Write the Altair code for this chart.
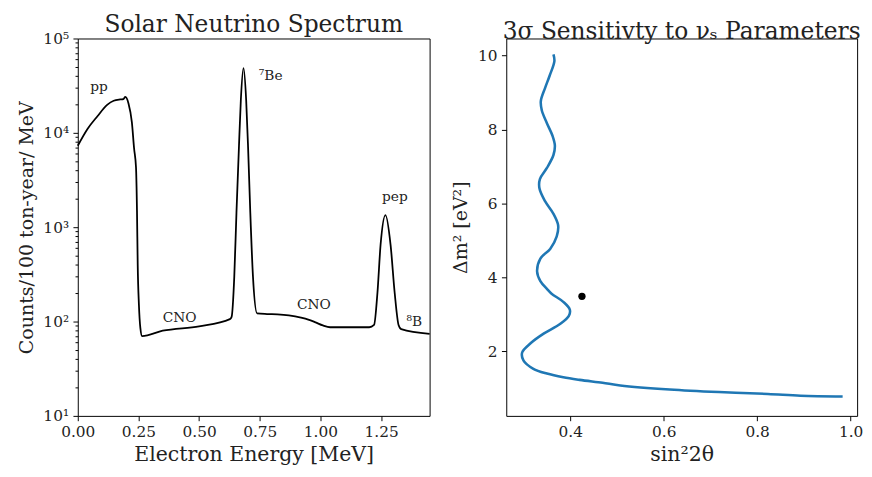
import altair as alt
import pandas as pd

# ---------------- Left panel data: solar neutrino spectrum ----------------
energy = [0.000, 0.040, 0.081, 0.121, 0.148, 0.175, 0.188, 0.196, 0.209, 0.223,
          0.232, 0.240, 0.244, 0.247, 0.252, 0.258, 0.265, 0.350, 0.500, 0.627,
          0.634, 0.645, 0.654, 0.664, 0.672, 0.683, 0.694, 0.702, 0.711, 0.722,
          0.739, 0.780, 0.823, 0.870, 0.920, 0.950, 0.980, 1.010, 1.040, 1.100,
          1.201, 1.221, 1.235, 1.248, 1.268, 1.289, 1.306, 1.322, 1.333, 1.450]
counts = [7300, 11000, 15000, 19800, 21900, 22600, 22800, 24000, 20500, 12900,
          6870, 4300, 1500, 400, 150, 85, 70, 80, 89, 106,
          112, 300, 1430, 6870, 22200, 48600, 22200, 6870, 1430, 300,
          122, 120, 119, 116, 110, 105, 98, 91, 87, 87,
          87, 92, 202, 655, 1346, 655, 202, 92, 83, 74]

label_text = ["pp", "⁷Be", "pep", "CNO", "CNO", "⁸B"]
label_x = [0.051, 0.746, 1.254, 0.350, 0.903, 1.355]
label_y = [28100, 36100, 1890, 98, 137, 89]

# ---------------- Right panel data: 3 sigma sensitivity contour ----------------
sin2 = [0.364, 0.366, 0.356, 0.346, 0.337, 0.339, 0.350, 0.362, 0.367, 0.364,
        0.350, 0.335, 0.334, 0.346, 0.364, 0.374, 0.371, 0.357, 0.336, 0.329,
        0.336, 0.350, 0.360, 0.385, 0.399, 0.397, 0.378, 0.343, 0.315, 0.297,
        0.300, 0.321, 0.350, 0.385, 0.420, 0.469, 0.507, 0.613, 0.718, 0.823,
        0.893, 0.983]
dm2 = [10.03, 9.85, 9.46, 9.12, 8.77, 8.52, 8.17, 7.83, 7.57, 7.31,
       6.96, 6.66, 6.41, 6.06, 5.72, 5.41, 5.11, 4.77, 4.51, 4.16,
       3.90, 3.69, 3.56, 3.34, 3.13, 2.96, 2.74, 2.48, 2.22, 1.97,
       1.75, 1.53, 1.40, 1.30, 1.23, 1.15, 1.08, 0.97, 0.90, 0.85,
       0.80, 0.78]
best_sin2 = [0.425]
best_dm2 = [3.49]

FONT = "DejaVu Serif"
H = 384

spec_df = pd.DataFrame({"E": energy, "N": counts})
lab_df = pd.DataFrame({"E": label_x, "N": label_y, "t": label_text})
cont_df = pd.DataFrame({"s": sin2, "m": dm2, "i": list(range(len(sin2)))})
pt_df = pd.DataFrame({"s": best_sin2, "m": best_dm2})

ytick_vals = [m * k for m in [10, 100, 1000, 10000] for k in range(1, 10)] + [100000]

xs_left = alt.Scale(domain=[0, 1.45], nice=False, zero=False)
ys_left = alt.Scale(type="log", domain=[10, 100000], nice=False)

line_left = alt.Chart(spec_df).mark_line(color="black", strokeWidth=1.8,
                                         interpolate="monotone").encode(
    x=alt.X("E:Q", scale=xs_left,
            axis=alt.Axis(values=[0, 0.25, 0.5, 0.75, 1.0, 1.25], format=".2f",
                          title="Electron Energy [MeV]")),
    y=alt.Y("N:Q", scale=ys_left,
            axis=alt.Axis(values=ytick_vals, title="Counts/100 ton-year/ MeV",
                          labelExpr="datum.value == 10 ? '10¹' : datum.value == 100 ? '10²' : datum.value == 1000 ? '10³' : datum.value == 10000 ? '10⁴' : datum.value == 100000 ? '10⁵' : ''",
                          tickSize={"condition": {"test": "indexof([10,100,1000,10000,100000], datum.value) >= 0", "value": 4.9}, "value": 2.8},
                          labelOverlap=False, titleFontSize=19.3)),
)

text_left = alt.Chart(lab_df).mark_text(font=FONT, fontSize=14, align="left",
                                        baseline="alphabetic", color="#222").encode(
    x=alt.X("E:Q", scale=xs_left),
    y=alt.Y("N:Q", scale=ys_left),
    text="t:N",
)

left = alt.layer(line_left, text_left).properties(
    width=358, height=H, title="Solar Neutrino Spectrum")

xs_right = alt.Scale(domain=[0.263, 1.014], nice=False, zero=False)
ys_right = alt.Scale(domain=[0.256, 10.46], nice=False, zero=False)

cont = alt.Chart(cont_df).mark_line(color="#1f77b4", strokeWidth=2.6,
                                    interpolate="catmull-rom").encode(
    x=alt.X("s:Q", scale=xs_right,
            axis=alt.Axis(values=[0.4, 0.6, 0.8, 1.0], format=".1f", title="sin²2θ")),
    y=alt.Y("m:Q", scale=ys_right,
            axis=alt.Axis(values=[2, 4, 6, 8, 10], format="d", title="Δm² [eV²]",
                          titleFontSize=19.3)),
    order="i:Q",
)
pt = alt.Chart(pt_df).mark_circle(color="black", size=55, opacity=1).encode(
    x=alt.X("s:Q", scale=xs_right),
    y=alt.Y("m:Q", scale=ys_right),
)
right = alt.layer(cont, pt).properties(
    width=357, height=H, title="3σ Sensitivty to νₛ Parameters")

chart = alt.hconcat(left, right, spacing=17).properties(
    padding={"left": 9, "top": 0, "right": 0, "bottom": 0}
).configure_view(
    stroke="black", strokeWidth=1
).configure_axis(
    labelFont=FONT, titleFont=FONT, labelFontSize=15.6, titleFontSize=20.8,
    labelColor="#222", titleColor="#222", titleFontWeight="normal",
    grid=False, tickColor="black", domainColor="black", tickSize=4.9,
    labelPadding=4.5, titlePadding=4, domain=False, labelFlush=False
).configure_axisY(
    titlePadding=7
).configure_title(
    font=FONT, fontSize=23.7, fontWeight="normal", color="#222",
    anchor="middle", frame="group", offset=-5
)

chart.save("out.html", embed_options={"renderer": "svg", "actions": False})
